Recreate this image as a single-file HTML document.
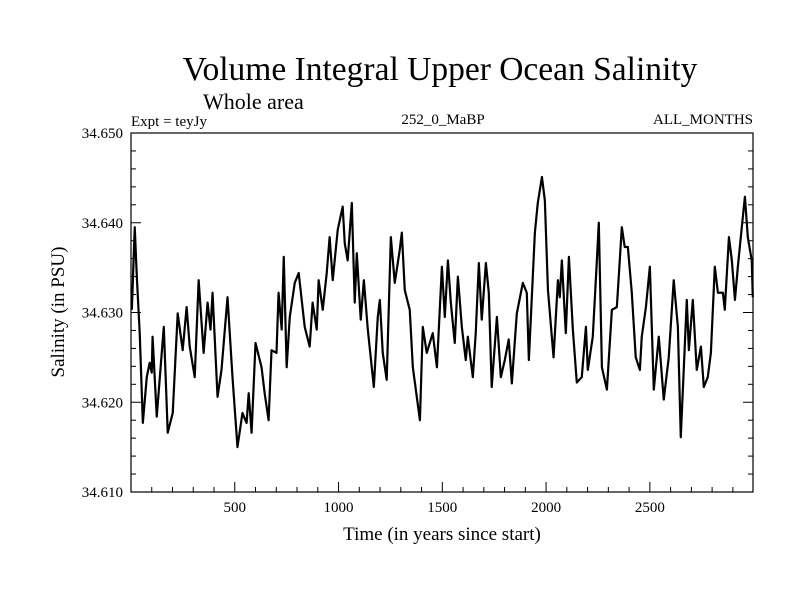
<!DOCTYPE html>
<html><head><meta charset="utf-8"><style>
body{margin:0;background:#fff;}
svg{display:block;font-family:"Liberation Serif",serif;}
</style></head><body>
<svg id="chart" width="800" height="600" viewBox="0 0 800 600">
<rect width="800" height="600" fill="#fff"/>
<text x="440" y="80" font-size="33.5" text-anchor="middle">Volume Integral Upper Ocean Salinity</text>
<text x="203" y="109" font-size="22">Whole area</text>
<text x="131" y="126" font-size="15">Expt = teyJy</text>
<text x="443" y="124" font-size="15" text-anchor="middle">252_0_MaBP</text>
<text x="753" y="124" font-size="15" text-anchor="end">ALL_MONTHS</text>
<text transform="translate(64,312) rotate(-90)" font-size="19" text-anchor="middle">Salinity (in PSU)</text>
<text x="442" y="540" font-size="19" text-anchor="middle">Time (in years since start)</text>
<g id="axes"></g>
<g id="series"></g>
</svg>
<script>
const years=[4,18,28,42,57,76,90,100,104,124,139,158,177,201,225,249,268,283,307,326,350,369,383,393,417,436,465,489,513,537,557,567,581,600,629,644,663,677,701,711,726,736,750,765,789,808,837,861,875,895,904,924,943,957,972,996,1020,1030,1044,1064,1078,1088,1107,1122,1141,1170,1189,1199,1213,1232,1252,1271,1295,1305,1319,1343,1358,1377,1392,1406,1425,1454,1474,1498,1512,1527,1541,1560,1575,1594,1613,1623,1647,1661,1676,1690,1710,1724,1738,1763,1782,1801,1820,1835,1859,1888,1907,1917,1946,1960,1980,1994,2009,2036,2057,2066,2076,2095,2110,2129,2148,2172,2192,2201,2225,2244,2254,2269,2293,2317,2341,2365,2379,2394,2413,2432,2452,2461,2481,2500,2519,2543,2567,2591,2615,2635,2649,2678,2688,2707,2726,2746,2760,2779,2794,2813,2828,2852,2861,2881,2895,2910,2924,2943,2958,2972,2991,2996];
const salinity=[34.6303,34.6395,34.6340,34.6277,34.6177,34.6228,34.6244,34.6233,34.6273,34.6184,34.6228,34.6284,34.6166,34.6188,34.6299,34.6258,34.6306,34.6262,34.6228,34.6336,34.6255,34.6311,34.6281,34.6322,34.6206,34.6236,34.6317,34.6228,34.6150,34.6188,34.6177,34.6210,34.6166,34.6266,34.6239,34.6210,34.6180,34.6258,34.6255,34.6322,34.6281,34.6362,34.6239,34.6295,34.6333,34.6344,34.6284,34.6262,34.6311,34.6281,34.6336,34.6303,34.6344,34.6384,34.6336,34.6392,34.6418,34.6377,34.6358,34.6422,34.6311,34.6366,34.6292,34.6336,34.6281,34.6217,34.6295,34.6314,34.6255,34.6225,34.6384,34.6333,34.6370,34.6389,34.6325,34.6303,34.6239,34.6206,34.6180,34.6284,34.6255,34.6277,34.6239,34.6351,34.6295,34.6358,34.6311,34.6266,34.6340,34.6284,34.6247,34.6273,34.6228,34.6277,34.6355,34.6292,34.6355,34.6322,34.6217,34.6295,34.6228,34.6247,34.6270,34.6221,34.6299,34.6333,34.6322,34.6247,34.6389,34.6422,34.6451,34.6425,34.6325,34.6250,34.6336,34.6317,34.6358,34.6277,34.6362,34.6281,34.6222,34.6228,34.6284,34.6236,34.6273,34.6355,34.6400,34.6239,34.6214,34.6303,34.6306,34.6395,34.6373,34.6373,34.6322,34.6250,34.6236,34.6273,34.6306,34.6351,34.6214,34.6273,34.6203,34.6250,34.6336,34.6284,34.6161,34.6314,34.6258,34.6314,34.6236,34.6262,34.6217,34.6228,34.6255,34.6351,34.6322,34.6322,34.6303,34.6384,34.6358,34.6314,34.6351,34.6395,34.6429,34.6384,34.6358,34.6317];
const yTickValues=[34.610,34.620,34.630,34.640,34.650];
const yTickLabels=["34.610","34.620","34.630","34.640","34.650"];
const xTickValues=[500,1000,1500,2000,2500];
const xTickLabels=["500","1000","1500","2000","2500"];

const NS="http://www.w3.org/2000/svg";
const L=131,R=753,T=133,B=492,X0=0,X1=2997,Y0=34.610,Y1=34.650;
function sx(v){return L+(v-X0)/(X1-X0)*(R-L);}
function sy(v){return B-(v-Y0)/(Y1-Y0)*(B-T);}
function mk(tag,attrs,parent){const e=document.createElementNS(NS,tag);for(const k in attrs)e.setAttribute(k,attrs[k]);parent.appendChild(e);return e;}
const axes=document.getElementById('axes');
const frame=mk('rect',{x:L,y:T,width:R-L,height:B-T,fill:'none',stroke:'#000','stroke-width':1.2},axes);


for(let v=100;v<X1;v+=100){
  const major=v%500===0;const len=major?10:5;
  const t=mk('line',{x1:sx(v),x2:sx(v),y1:B,y2:B-len,stroke:'#000','stroke-width':1},axes);
  
  
}
for(let i=0;i<=20;i++){
  const v=Y0+i*0.002;const major=i%5===0;const len=major?10:5;
  const a=mk('line',{x1:L,x2:L+len,y1:sy(v),y2:sy(v),stroke:'#000','stroke-width':1},axes);
  
  
  const b=mk('line',{x1:R,x2:R-len,y1:sy(v),y2:sy(v),stroke:'#000','stroke-width':1},axes);
  
  
}
yTickValues.forEach((v,i)=>{
  const t=mk('text',{x:123,y:sy(v)+5,'font-size':15,'text-anchor':'end'},axes);
  t.textContent=yTickLabels[i];
  
  
});
xTickValues.forEach((v,i)=>{
  const t=mk('text',{x:sx(v),y:512,'font-size':15,'text-anchor':'middle'},axes);
  t.textContent=xTickLabels[i];
  
  
});
const d=years.map((y,i)=>(i?'L':'M')+sx(y).toFixed(2)+','+sy(salinity[i]).toFixed(2)).join('');
const p=mk('path',{d:d,fill:'none',stroke:'#000','stroke-width':2.2,'stroke-linejoin':'round'},document.getElementById('series'));


</script>
</body></html>
